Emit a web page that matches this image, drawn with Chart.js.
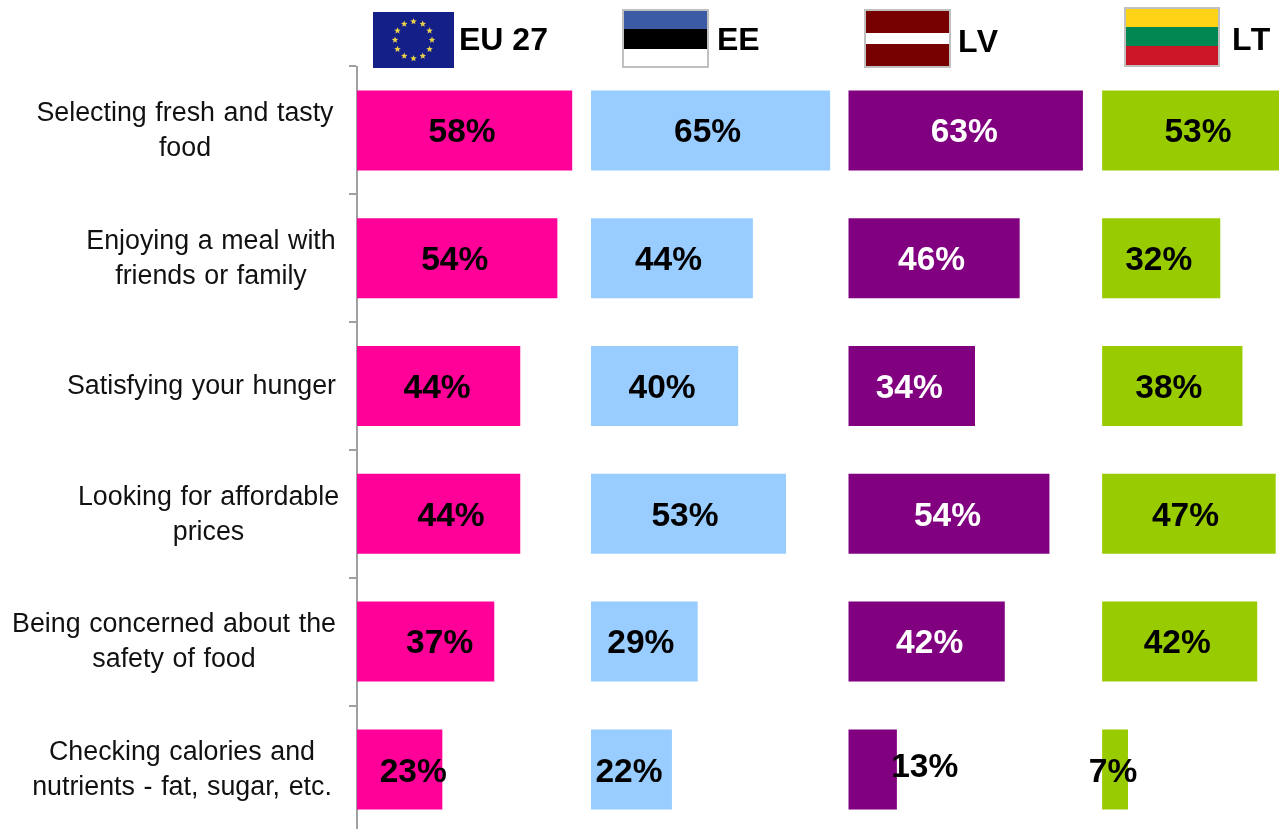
<!DOCTYPE html>
<html>
<head>
<meta charset="utf-8">
<title>Food priorities</title>
<script src="https://cdn.jsdelivr.net/npm/chart.js@4"></script>
<style>
html,body{margin:0;padding:0;background:#fff;width:1279px;height:829px;overflow:hidden;font-family:"Liberation Sans",Arial,sans-serif}
#wrap{position:relative;width:1279px;height:829px;overflow:hidden}
canvas{position:absolute;left:0;top:0}
.flag{position:absolute;box-sizing:border-box}
.flag div{width:100%}
.name{position:absolute;font-weight:bold;font-size:32px;line-height:32px;color:#000;white-space:nowrap}
</style>
</head>
<body>
<div id="wrap">
  <canvas id="c" width="1279" height="840"></canvas>
  <svg class="flag" id="euFlag" style="left:373px;top:12px" width="81" height="56" viewBox="0 0 81 56"><rect width="81" height="56" fill="#141f88"/></svg>
  <div class="flag" style="left:622px;top:9px;width:87px;height:59px;border:2px solid #c0c0c0">
    <div style="height:18px;background:#3b5ba5"></div><div style="height:20px;background:#000"></div><div style="height:17px;background:#fff"></div>
  </div>
  <div class="flag" style="left:864px;top:9px;width:87px;height:59px;border:2px solid #c0c0c0">
    <div style="height:22px;background:#770000"></div><div style="height:11px;background:#fff"></div><div style="height:22px;background:#770000"></div>
  </div>
  <div class="flag" style="left:1124px;top:7px;width:96px;height:60px;border:2px solid #c0c0c0">
    <div style="height:18px;background:#ffd316"></div><div style="height:19px;background:#008752"></div><div style="height:19px;background:#cc1628"></div>
  </div>
  <span class="name" id="n0" style="left:459px;top:23px"></span>
  <span class="name" id="n1" style="left:717px;top:23px"></span>
  <span class="name" id="n2" style="left:958px;top:25px;letter-spacing:1.5px"></span>
  <span class="name" id="n3" style="left:1232px;top:23px;letter-spacing:1.5px"></span>
</div>
<script>
const categories = [
  ["Selecting fresh and tasty", "food"],
  ["Enjoying a meal with", "friends or family"],
  ["Satisfying your hunger"],
  ["Looking for affordable", "prices"],
  ["Being concerned about the", "safety of food"],
  ["Checking calories and", "nutrients - fat, sugar, etc."]
];
const seriesNames = ["EU 27", "EE", "LV", "LT"];
const eu27 = [58, 54, 44, 44, 37, 23];
const ee = [65, 44, 40, 53, 29, 22];
const lv = [63, 46, 34, 54, 42, 13];
const lt = [53, 32, 38, 47, 42, 7];

const seriesValues = [eu27, ee, lv, lt];
const seriesColors = ["#ff0099", "#99ccff", "#800080", "#99cc00"];
const labelColors = [
  ["#000","#000","#000","#000","#000","#000"],
  ["#000","#000","#000","#000","#000","#000"],
  ["#fff","#fff","#fff","#fff","#fff","#000"],
  ["#000","#000","#000","#000","#000","#000"]
];
// Layout: each series has its own hidden x scale so that its zero falls on the panel's left edge.
const xRanges = [[0, 248.5], [-63.6, 187], [-132.1, 115.7], [-201.8, 47.9]];
// Layout: the reference's value labels sit slightly off the bar centres.
const labelShiftX = [
  [-2.5, -2.5, -1.5, 12.5, 14, 13.5],
  [-3, -3.5, -2.5, -3.5, -3.5, -2.5],
  [-1.5, -2.5, -2.5, -1.5, 3, 52],
  [-2, -2.5, -3.5, -3.5, -2.5, -2]
];
const labelShiftY = [
  [0, 0, 0, 0, 0, 1],
  [0, 0, 0, 0, 0, 1],
  [0, 0, 0, 0, 0, -4],
  [0, 0, 0, 0, 0, 1]
];
const catLabelCenterX = [185, 211, 201.5, 208.5, 174, 182];

seriesNames.forEach((s, i) => document.getElementById("n" + i).textContent = s);

// EU flag stars
(function () {
  const svg = document.getElementById("euFlag");
  for (let k = 0; k < 12; k++) {
    const a = k * Math.PI / 6, cx = 40.5 + 18.5 * Math.sin(a), cy = 28 - 18.5 * Math.cos(a);
    let pts = [];
    for (let j = 0; j < 10; j++) {
      const r = j % 2 ? 1.5 : 3.4, b = j * Math.PI / 5;
      pts.push((cx + r * Math.sin(b)).toFixed(2) + "," + (cy - r * Math.cos(b)).toFixed(2));
    }
    const p = document.createElementNS("http://www.w3.org/2000/svg", "polygon");
    p.setAttribute("points", pts.join(" "));
    p.setAttribute("fill", "#e8d24a");
    svg.appendChild(p);
  }
})();

const textPlugin = {
  id: "texts",
  afterDraw(chart) {
    const ctx = chart.ctx, y = chart.scales.y;
    ctx.save();
    ctx.fillStyle = "#111";
    ctx.font = '26.8px "Liberation Sans", Arial, sans-serif';
    ctx.wordSpacing = "1.2px";
    ctx.textAlign = "center";
    ctx.textBaseline = "middle";
    categories.forEach((lines, i) => {
      const yc = y.getPixelForValue(i);
      lines.forEach((ln, k) => {
        ctx.fillText(ln, catLabelCenterX[i], yc + 1 + (k - (lines.length - 1) / 2) * 35);
      });
    });
    ctx.wordSpacing = "0px";
    ctx.font = 'bold 33.5px "Liberation Sans", Arial, sans-serif';
    seriesValues.forEach((vals, s) => {
      const bars = chart.getDatasetMeta(s).data;
      vals.forEach((v, i) => {
        const b = bars[i];
        ctx.fillStyle = labelColors[s][i];
        ctx.fillText(v + "%", (b.x + b.base) / 2 + labelShiftX[s][i], b.y + 2.5 + labelShiftY[s][i]);
      });
    });
    ctx.restore();
  }
};

const xScales = {};
seriesNames.forEach((s, i) => {
  xScales["x" + i] = { type: "linear", display: false, min: xRanges[i][0], max: xRanges[i][1] };
});

new Chart(document.getElementById("c"), {
  type: "bar",
  data: {
    labels: categories,
    datasets: seriesNames.map((s, i) => ({
      label: s,
      data: seriesValues[i],
      xAxisID: "x" + i,
      yAxisID: "y",
      backgroundColor: seriesColors[i],
      borderWidth: 0,
      grouped: false,
      barPercentage: 1,
      categoryPercentage: 0.626
    }))
  },
  options: {
    indexAxis: "y",
    responsive: false,
    animation: false,
    layout: { padding: { top: 66.5, bottom: 6.7, left: 0, right: 0 } },
    plugins: { legend: { display: false }, tooltip: { enabled: false }, title: { display: false } },
    scales: Object.assign({
      y: {
        type: "category",
        position: "left",
        offset: true,
        border: { display: true, color: "#a0a0a0", width: 2 },
        grid: { offset: true, drawOnChartArea: false, drawTicks: true, tickLength: 8, color: "#a0a0a0", lineWidth: 2 },
        ticks: { display: false },
        afterFit(scale) { scale.width = 357; }
      }
    }, xScales)
  },
  plugins: [textPlugin]
});
</script>
</body>
</html>
